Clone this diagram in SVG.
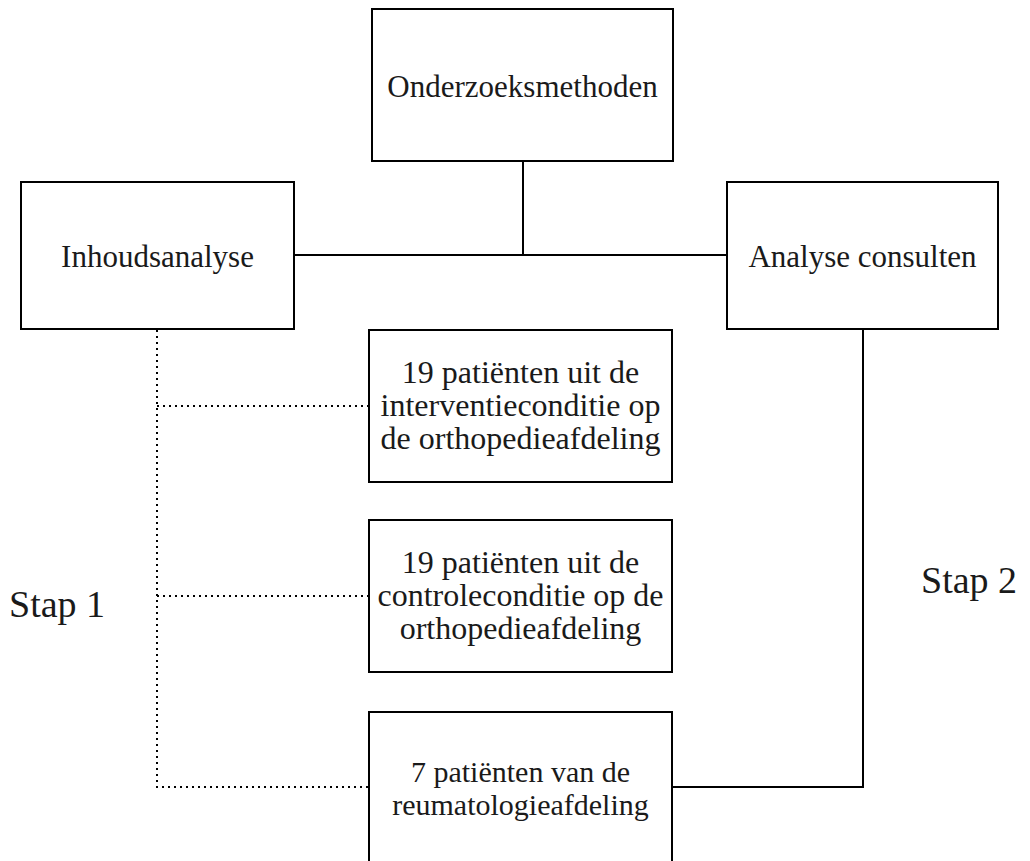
<svg xmlns="http://www.w3.org/2000/svg" width="1030" height="861" viewBox="0 0 1030 861">
<style>
.box{fill:#fff;stroke:#000;stroke-width:2}
.t{font-family:"Liberation Serif","Times New Roman",serif;font-size:30px;fill:#1a1a1a;text-anchor:middle}
.m{font-size:32px}
.lbl{font-family:"Liberation Serif","Times New Roman",serif;font-size:38px;fill:#1a1a1a}
.solid{fill:none;stroke:#000;stroke-width:2}
.dot{fill:none;stroke:#000;stroke-width:2;stroke-dasharray:2 4}
</style>
<rect width="1030" height="861" fill="#fff"/>
<g id="connectors">
<path class="solid" d="M523,161 V255 M294,255 H727"/>
<path class="solid" d="M863,329 V787 H672"/>
<path class="dot" d="M157,330 V787 H369 M157,406 H369 M157,596 H369"/>
</g>
<g id="onderzoeksmethoden">
<rect class="box" x="372" y="9" width="301" height="152"/>
<text class="t" x="522.5" y="97" style="font-size:31px">Onderzoeksmethoden</text>
</g>
<g id="inhoudsanalyse">
<rect class="box" x="21" y="182" width="273" height="147"/>
<text class="t" x="157.5" y="267" style="font-size:31px">Inhoudsanalyse</text>
</g>
<g id="analyse-consulten">
<rect class="box" x="727" y="182" width="271" height="147"/>
<text class="t" x="862.5" y="267" style="font-size:31px">Analyse consulten</text>
</g>
<g id="interventie">
<rect class="box" x="369" y="330" width="303" height="152"/>
<text class="t m" x="520.5" y="383">19 patiënten uit de</text>
<text class="t m" x="520.5" y="416">interventieconditie op</text>
<text class="t m" x="520.5" y="449">de orthopedieafdeling</text>
</g>
<g id="controle">
<rect class="box" x="369" y="520" width="303" height="152"/>
<text class="t m" x="520.5" y="573">19 patiënten uit de</text>
<text class="t m" x="520.5" y="606">controleconditie op de</text>
<text class="t m" x="520.5" y="639">orthopedieafdeling</text>
</g>
<g id="reumatologie">
<rect class="box" x="369" y="712" width="303" height="170"/>
<text class="t" x="520.5" y="782">7 patiënten van de</text>
<text class="t" x="520.5" y="815">reumatologieafdeling</text>
</g>
<g id="stap1">
<text class="lbl" x="9" y="617">Stap 1</text>
</g>
<g id="stap2">
<text class="lbl" x="921" y="593">Stap 2</text>
</g>
</svg>
